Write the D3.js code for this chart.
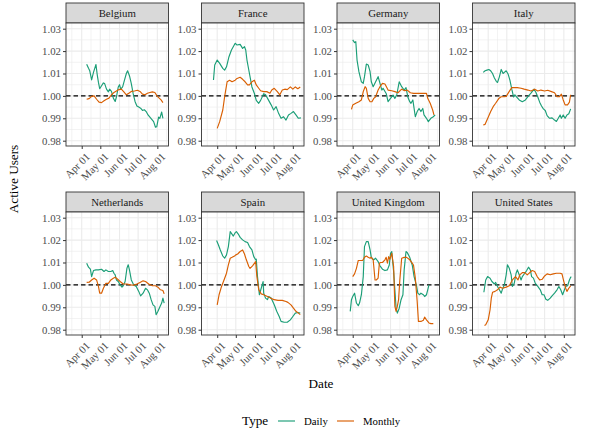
<!DOCTYPE html>
<html><head><meta charset="utf-8">
<script src="https://cdn.jsdelivr.net/npm/d3@7"></script>
<style>
html,body{margin:0;padding:0;background:#fff;}
svg{display:block;}
svg text{font-family:"Liberation Serif","Times New Roman",serif;}
</style></head>
<body><svg id="chart" width="600" height="430" font-family="Liberation Serif, serif"></svg>
<script>
const countries = ["Belgium","France","Germany","Italy","Netherlands","Spain","United Kingdom","United States"];
const seriesTypes = ["Daily","Monthly"];
const seriesColors = ["#1b9e77","#d95f02"];
const yTicks = [0.98,0.99,1.00,1.01,1.02,1.03];
const xTickDates = ["2020-04-01","2020-05-01","2020-06-01","2020-07-01","2020-08-01"];

const dailyBelgium = [["04-09",1.0141],["04-12",1.0123],["04-14",1.0112],["04-17",1.0071],["04-20",1.0105],["04-24",1.0140],["04-26",1.0095],["04-28",1.0060],["04-30",1.0032],["05-03",1.0045],["05-06",1.0058],["05-08",1.0055],["05-11",1.0030],["05-14",1.0018],["05-16",1.0030],["05-19",1.0020],["05-22",0.9990],["05-25",0.9975],["05-27",0.9995],["05-30",1.0040],["06-01",1.0050],["06-03",1.0030],["06-06",1.0040],["06-09",1.0070],["06-12",1.0100],["06-14",1.0112],["06-17",1.0090],["06-20",1.0055],["06-23",1.0010],["06-26",0.9975],["06-29",0.9955],["07-02",0.9950],["07-05",0.9945],["07-08",0.9935],["07-11",0.9938],["07-14",0.9930],["07-17",0.9915],["07-20",0.9905],["07-23",0.9895],["07-26",0.9885],["07-29",0.9860],["07-31",0.9862],["08-03",0.9905],["08-05",0.9900],["08-08",0.9928],["08-10",0.9900]];
const monthlyBelgium = [["04-09",0.9985],["04-13",0.9988],["04-17",0.9998],["04-21",1.0000],["04-25",0.9985],["04-29",0.9972],["05-03",0.9970],["05-07",0.9978],["05-11",0.9985],["05-15",0.9990],["05-19",1.0005],["05-23",1.0015],["05-27",1.0022],["05-31",1.0028],["06-04",1.0030],["06-08",1.0018],["06-12",1.0005],["06-16",1.0012],["06-20",1.0020],["06-25",1.0022],["06-30",1.0025],["07-04",1.0020],["07-08",1.0008],["07-12",1.0005],["07-16",1.0012],["07-20",1.0015],["07-24",1.0018],["07-28",1.0015],["08-01",0.9998],["08-04",0.9990],["08-07",0.9982],["08-10",0.9970]];

const dailyFrance = [["03-26",1.0071],["03-28",1.0138],["04-01",1.0160],["04-05",1.0145],["04-10",1.0123],["04-13",1.0115],["04-16",1.0130],["04-20",1.0175],["04-24",1.0205],["04-30",1.0235],["05-03",1.0227],["05-08",1.0230],["05-12",1.0212],["05-15",1.0220],["05-17",1.0205],["05-19",1.0160],["05-23",1.0100],["05-27",1.0040],["05-31",1.0011],["06-03",0.9980],["06-07",0.9967],["06-10",0.9980],["06-15",1.0010],["06-18",1.0005],["06-23",0.9980],["06-27",0.9960],["07-01",0.9937],["07-05",0.9952],["07-09",0.9922],["07-13",0.9900],["07-17",0.9907],["07-21",0.9892],["07-25",0.9915],["07-29",0.9922],["08-02",0.9930],["08-06",0.9915],["08-10",0.9900],["08-14",0.9902]];
const monthlyFrance = [["04-01",0.9855],["04-05",0.9885],["04-10",0.9937],["04-13",0.9997],["04-17",1.0063],["04-21",1.0070],["04-25",1.0063],["04-30",1.0070],["05-03",1.0078],["05-08",1.0083],["05-12",1.0074],["05-16",1.0063],["05-20",1.0049],["05-23",1.0049],["05-27",1.0063],["05-31",1.0070],["06-03",1.0049],["06-07",1.0034],["06-10",1.0023],["06-15",1.0019],["06-20",1.0019],["06-25",1.0012],["06-28",1.0026],["07-02",1.0034],["07-07",1.0019],["07-11",1.0005],["07-15",1.0026],["07-19",1.0030],["07-23",1.0028],["07-28",1.0040],["08-01",1.0030],["08-05",1.0040],["08-09",1.0032],["08-13",1.0040]];

const dailyGermany = [["04-01",1.0250],["04-04",1.0238],["04-06",1.0242],["04-08",1.0160],["04-11",1.0108],["04-15",1.0063],["04-18",1.0056],["04-20",1.0086],["04-23",1.0142],["04-26",1.0138],["04-29",1.0108],["05-01",1.0063],["05-04",1.0041],["05-08",1.0063],["05-12",1.0086],["05-15",1.0056],["05-18",1.0026],["05-20",1.0034],["05-25",1.0011],["05-28",0.9974],["06-01",0.9989],["06-05",1.0004],["06-08",0.9989],["06-11",1.0004],["06-15",1.0063],["06-19",1.0041],["06-23",1.0026],["06-26",1.0037],["06-29",0.9994],["07-02",0.9974],["07-04",0.9967],["07-07",0.9982],["07-11",0.9907],["07-14",0.9930],["07-17",0.9944],["07-20",0.9930],["07-23",0.9944],["07-25",0.9915],["07-29",0.9900],["08-01",0.9885],["08-05",0.9900],["08-09",0.9907],["08-12",0.9915]];
const monthlyGermany = [["03-30",0.9940],["04-01",0.9959],["04-06",0.9967],["04-11",0.9974],["04-15",0.9982],["04-18",1.0019],["04-21",1.0041],["04-23",1.0034],["04-26",0.9989],["04-29",0.9974],["05-02",0.9974],["05-05",0.9989],["05-08",0.9996],["05-12",1.0026],["05-15",1.0041],["05-19",1.0056],["05-23",1.0053],["05-26",1.0037],["05-28",1.0026],["06-03",1.0023],["06-08",1.0019],["06-13",1.0014],["06-19",1.0030],["06-24",1.0023],["06-28",1.0026],["07-03",1.0014],["07-08",1.0011],["07-25",1.0011],["07-29",1.0011],["07-31",0.9989],["08-04",0.9967],["08-08",0.9937],["08-10",0.9915]];

const dailyItaly = [["03-24",1.0105],["03-27",1.0112],["03-30",1.0115],["04-02",1.0118],["04-05",1.0112],["04-08",1.0100],["04-11",1.0080],["04-14",1.0065],["04-16",1.0060],["04-19",1.0085],["04-22",1.0118],["04-25",1.0100],["04-27",1.0105],["04-30",1.0112],["05-03",1.0098],["05-06",1.0070],["05-09",1.0030],["05-12",0.9995],["05-14",1.0005],["05-17",0.9995],["05-21",0.9982],["05-26",0.9974],["05-31",0.9982],["06-05",1.0000],["06-09",1.0012],["06-14",1.0030],["06-17",1.0015],["06-20",0.9995],["06-23",0.9972],["06-26",0.9955],["06-29",0.9942],["07-02",0.9935],["07-05",0.9912],["07-09",0.9900],["07-13",0.9902],["07-17",0.9892],["07-20",0.9886],["07-23",0.9900],["07-26",0.9915],["07-28",0.9900],["07-31",0.9915],["08-03",0.9900],["08-06",0.9915],["08-09",0.9920],["08-12",0.9942]];
const monthlyItaly = [["03-24",0.9870],["03-27",0.9873],["04-01",0.9905],["04-05",0.9930],["04-09",0.9952],["04-13",0.9967],["04-18",0.9988],["04-22",0.9996],["04-27",0.9996],["04-30",0.9998],["05-05",1.0020],["05-09",1.0037],["05-13",1.0037],["05-18",1.0037],["05-24",1.0034],["05-29",1.0030],["06-04",1.0026],["06-09",1.0022],["06-15",1.0030],["06-20",1.0022],["06-25",1.0026],["07-01",1.0022],["07-06",1.0025],["07-12",1.0019],["07-17",1.0014],["07-21",0.9997],["07-25",0.9996],["07-28",1.0008],["07-31",0.9982],["08-03",0.9960],["08-07",0.9960],["08-10",0.9972],["08-12",1.0005]];

const dailyNetherlands = [["04-09",1.0097],["04-12",1.0079],["04-15",1.0070],["04-17",1.0037],["04-20",1.0064],["04-24",1.0067],["04-28",1.0067],["05-03",1.0070],["05-07",1.0060],["05-10",1.0067],["05-14",1.0060],["05-18",1.0060],["05-21",1.0064],["05-23",1.0052],["05-25",1.0045],["05-27",1.0022],["05-30",1.0015],["06-02",1.0000],["06-05",0.9990],["06-07",0.9996],["06-10",1.0015],["06-13",1.0075],["06-15",1.0090],["06-17",1.0067],["06-20",1.0022],["06-24",1.0000],["06-28",0.9993],["07-02",0.9971],["07-05",0.9951],["07-09",0.9963],["07-13",0.9985],["07-16",0.9978],["07-19",0.9963],["07-22",0.9934],["07-25",0.9911],["07-28",0.9904],["07-30",0.9867],["08-02",0.9882],["08-05",0.9901],["08-08",0.9919],["08-10",0.9941],["08-12",0.9919]];
const monthlyNetherlands = [["04-09",1.0011],["04-13",1.0012],["04-17",1.0022],["04-21",1.0030],["04-25",1.0022],["04-28",0.9993],["04-30",0.9963],["05-03",0.9963],["05-06",0.9985],["05-10",1.0007],["05-14",1.0007],["05-18",1.0022],["05-22",1.0030],["05-25",1.0034],["05-29",1.0025],["06-02",1.0015],["06-07",1.0004],["06-13",1.0004],["06-18",1.0000],["06-24",0.9999],["06-29",1.0004],["07-04",1.0011],["07-09",1.0018],["07-13",1.0015],["07-18",1.0004],["07-24",0.9996],["07-29",0.9996],["08-02",0.9990],["08-06",0.9978],["08-10",0.9975],["08-12",0.9960]];

const dailySpain = [["03-31",1.0198],["04-03",1.0178],["04-06",1.0156],["04-10",1.0129],["04-13",1.0119],["04-16",1.0134],["04-19",1.0171],["04-22",1.0238],["04-24",1.0230],["04-27",1.0218],["04-30",1.0233],["05-02",1.0238],["05-05",1.0227],["05-08",1.0212],["05-12",1.0201],["05-16",1.0193],["05-20",1.0189],["05-23",1.0171],["05-27",1.0156],["05-30",1.0126],["06-02",1.0112],["06-03",1.0115],["06-05",1.0037],["06-08",0.9956],["06-11",0.9985],["06-14",1.0015],["06-15",0.9963],["06-18",0.9941],["06-21",0.9934],["06-23",0.9948],["06-27",0.9941],["07-02",0.9911],["07-06",0.9882],["07-10",0.9859],["07-13",0.9837],["07-18",0.9833],["07-23",0.9833],["07-28",0.9844],["08-01",0.9859],["08-05",0.9874],["08-09",0.9877],["08-13",0.9874]];
const monthlySpain = [["04-01",0.9911],["04-04",0.9956],["04-08",0.9993],["04-12",1.0022],["04-16",1.0052],["04-19",1.0089],["04-22",1.0119],["04-25",1.0123],["04-29",1.0129],["05-01",1.0134],["05-04",1.0138],["05-08",1.0149],["05-12",1.0156],["05-15",1.0138],["05-18",1.0112],["05-22",1.0082],["05-24",1.0074],["05-28",1.0085],["06-02",1.0104],["06-04",1.0037],["06-07",0.9978],["06-11",0.9960],["06-15",0.9956],["06-21",0.9948],["06-26",0.9941],["07-02",0.9934],["07-08",0.9931],["07-15",0.9931],["07-21",0.9926],["07-24",0.9922],["07-29",0.9911],["08-02",0.9896],["08-06",0.9882],["08-10",0.9874],["08-13",0.9867]];

const dailyUK = [["03-28",0.9882],["03-30",0.9934],["04-01",0.9948],["04-04",0.9963],["04-07",0.9919],["04-10",0.9907],["04-12",0.9919],["04-15",0.9956],["04-18",1.0037],["04-20",1.0171],["04-23",1.0193],["04-26",1.0193],["04-29",1.0156],["05-01",1.0123],["05-05",1.0112],["05-08",1.0119],["05-12",1.0104],["05-15",1.0085],["05-19",1.0070],["05-23",1.0064],["05-27",1.0067],["05-30",1.0089],["06-01",1.0141],["06-03",1.0149],["06-06",1.0060],["06-08",0.9978],["06-10",0.9896],["06-12",0.9874],["06-15",0.9896],["06-18",0.9934],["06-21",0.9956],["06-23",1.0067],["06-26",1.0149],["06-28",1.0144],["07-02",1.0123],["07-06",1.0089],["07-09",1.0037],["07-13",0.9996],["07-15",0.9963],["07-18",0.9956],["07-20",0.9963],["07-24",0.9956],["07-26",0.9948],["07-29",0.9956],["07-31",0.9978],["08-02",1.0000]];
const monthlyUK = [["04-01",1.0037],["04-04",1.0049],["04-07",1.0074],["04-10",1.0109],["04-12",1.0109],["04-17",1.0109],["04-20",1.0123],["04-23",1.0129],["04-26",1.0123],["04-29",1.0119],["05-01",1.0123],["05-04",1.0112],["05-07",1.0022],["05-09",1.0022],["05-12",1.0030],["05-14",1.0097],["05-16",1.0100],["05-19",1.0100],["05-23",1.0112],["05-25",1.0123],["05-27",1.0097],["05-29",1.0126],["05-31",1.0115],["06-03",1.0141],["06-06",1.0082],["06-08",0.9904],["06-10",0.9882],["06-12",0.9904],["06-14",0.9934],["06-16",1.0022],["06-19",1.0119],["06-23",1.0123],["06-27",1.0123],["07-02",1.0112],["07-06",1.0097],["07-08",1.0089],["07-11",1.0030],["07-14",0.9926],["07-16",0.9837],["07-20",0.9837],["07-24",0.9842],["07-26",0.9856],["07-29",0.9844],["08-02",0.9830],["08-05",0.9827],["08-09",0.9827]];

const dailyUS = [["03-25",0.9967],["03-28",1.0022],["03-31",1.0037],["04-04",1.0030],["04-07",1.0015],["04-11",1.0004],["04-13",1.0011],["04-16",0.9993],["04-19",0.9978],["04-22",0.9963],["04-24",0.9981],["04-27",1.0000],["04-30",1.0045],["05-02",1.0090],["05-05",1.0074],["05-08",1.0045],["05-10",0.9993],["05-13",1.0007],["05-16",1.0052],["05-18",1.0067],["05-21",1.0045],["05-24",1.0022],["05-26",1.0037],["05-30",1.0052],["06-02",1.0064],["06-05",1.0079],["06-08",1.0067],["06-10",1.0037],["06-13",1.0030],["06-16",1.0007],["06-20",0.9993],["06-24",0.9978],["06-27",0.9956],["06-30",0.9956],["07-03",0.9936],["07-06",0.9931],["07-10",0.9941],["07-13",0.9951],["07-17",0.9963],["07-21",0.9978],["07-24",0.9993],["07-27",0.9978],["07-30",0.9956],["08-02",0.9978],["08-04",0.9993],["08-07",0.9996],["08-10",1.0022],["08-12",1.0034],["08-13",1.0037]];
const monthlyUS = [["03-26",0.9819],["03-28",0.9822],["04-01",0.9844],["04-04",0.9889],["04-06",0.9941],["04-08",0.9967],["04-12",0.9971],["04-16",0.9978],["04-20",0.9990],["04-24",0.9985],["04-30",0.9990],["05-05",0.9996],["05-10",1.0022],["05-15",1.0037],["05-19",1.0022],["05-22",1.0045],["05-26",1.0055],["05-30",1.0055],["06-03",1.0045],["06-07",1.0055],["06-11",1.0064],["06-15",1.0060],["06-19",1.0037],["06-23",1.0022],["06-27",1.0025],["07-01",1.0040],["07-05",1.0049],["07-10",1.0045],["07-15",1.0049],["07-20",1.0052],["07-26",1.0052],["07-29",1.0049],["08-01",1.0015],["08-04",0.9985],["08-06",0.9971],["08-09",0.9985],["08-12",0.9996]];

const dailySeries = [dailyBelgium,dailyFrance,dailyGermany,dailyItaly,dailyNetherlands,dailySpain,dailyUK,dailyUS];
const monthlySeries = [monthlyBelgium,monthlyFrance,monthlyGermany,monthlyItaly,monthlyNetherlands,monthlySpain,monthlyUK,monthlyUS];

// ---------- drawing ----------
const FONT = "Liberation Serif, Times New Roman, serif";
const parse = d3.timeParse("%Y-%m-%d");
const pd = md => parse("2020-" + md);
const svg = d3.select("#chart");

const colLefts = [66, 201.5, 337, 472.5];
const rowTops = [3, 192];
const panelW = 102.5, stripH = 20, plotH = 123;

const x = d3.scaleTime()
  .domain([new Date(2020,2,6,16), new Date(2020,7,19,0)])
  .range([0, panelW]);
const y = d3.scaleLinear().domain([0.97763, 1.03254]).range([plotH, 0]);

const xMinor = ["2020-03-16","2020-04-16","2020-05-16","2020-06-16","2020-07-16","2020-08-16"].map(parse);
const yMinor = [0.985,0.995,1.005,1.015,1.025];

const line = d3.line().x(d => x(d[0])).y(d => y(d[1]));

countries.forEach((name, i) => {
  const col = i % 4, row = Math.floor(i / 4);
  const g = svg.append("g").attr("transform", `translate(${colLefts[col]},${rowTops[row]})`);
  g.append("rect").attr("x",0).attr("y",0).attr("width",panelW).attr("height",stripH)
    .attr("fill","#d9d9d9").attr("stroke","#333333").attr("stroke-width",0.9);
  g.append("text").attr("x",panelW/2).attr("y",stripH/2).attr("dy","0.35em")
    .attr("text-anchor","middle").attr("font-family",FONT).attr("font-size","10.8px").attr("fill","#1a1a1a").text(name);
  const p = g.append("g").attr("transform",`translate(0,${stripH})`);
  p.append("rect").attr("width",panelW).attr("height",plotH).attr("fill","#fff");
  p.selectAll(".gxm").data(xMinor.filter(d => x(d) > 0 && x(d) < panelW)).enter().append("line")
    .attr("x1",d=>x(d)).attr("x2",d=>x(d)).attr("y1",0).attr("y2",plotH)
    .attr("stroke","#ebebeb").attr("stroke-width",0.6);
  p.selectAll(".gym").data(yMinor).enter().append("line")
    .attr("y1",d=>y(d)).attr("y2",d=>y(d)).attr("x1",0).attr("x2",panelW)
    .attr("stroke","#ebebeb").attr("stroke-width",0.6);
  p.selectAll(".gx").data(xTickDates.map(parse)).enter().append("line")
    .attr("x1",d=>x(d)).attr("x2",d=>x(d)).attr("y1",0).attr("y2",plotH)
    .attr("stroke","#ebebeb").attr("stroke-width",1.1);
  p.selectAll(".gy").data(yTicks).enter().append("line")
    .attr("y1",d=>y(d)).attr("y2",d=>y(d)).attr("x1",0).attr("x2",panelW)
    .attr("stroke","#ebebeb").attr("stroke-width",1.1);
  p.append("line").attr("x1",0).attr("x2",panelW).attr("y1",y(1)).attr("y2",y(1))
    .attr("stroke","#000").attr("stroke-width",1.1).attr("stroke-dasharray","4.5,3");
  [dailySeries[i], monthlySeries[i]].forEach((s, k) => {
    const data = s.map(d => [pd(d[0]), d[1]]);
    p.append("path").datum(data).attr("d", line).attr("fill","none")
      .attr("stroke", seriesColors[k]).attr("stroke-width",1.15).attr("stroke-linejoin","round");
  });
  p.append("rect").attr("width",panelW).attr("height",plotH).attr("fill","none")
    .attr("stroke","#333333").attr("stroke-width",0.9);
  const ya = p.append("g").call(d3.axisLeft(y).tickValues(yTicks).tickFormat(d3.format(".2f")).tickSize(3).tickPadding(2));
  ya.attr("font-family",FONT);
  ya.select(".domain").remove();
  ya.selectAll("line").attr("stroke","#333333");
  ya.selectAll("text").attr("font-size","10.8px").attr("fill","#4d4d4d").attr("font-family",FONT);
  const xa = p.append("g").attr("transform",`translate(0,${plotH})`)
    .call(d3.axisBottom(x).tickValues(xTickDates.map(parse)).tickFormat(d3.timeFormat("%b %d")).tickSize(3));
  xa.attr("font-family",FONT);
  xa.select(".domain").remove();
  xa.selectAll("line").attr("stroke","#333333");
  xa.selectAll("text").attr("font-size","10.8px").attr("fill","#4d4d4d").attr("font-family",FONT)
    .attr("text-anchor","end").attr("y",0).attr("dy","0.7em")
    .attr("transform","translate(3,6) rotate(-45)");
});

svg.append("text").attr("transform","translate(18,179) rotate(-90)").attr("text-anchor","middle")
  .attr("font-family",FONT).attr("font-size","13.2px").attr("fill","#000").text("Active Users");
svg.append("text").attr("x",321).attr("y",388).attr("text-anchor","middle")
  .attr("font-family",FONT).attr("font-size","13.2px").attr("fill","#000").text("Date");

const lg = svg.append("g");
lg.append("text").attr("x",242).attr("y",425).attr("font-family",FONT).attr("font-size","13.2px").attr("fill","#000").text("Type");
const legX = [278, 337];
seriesTypes.forEach((t, k) => {
  lg.append("line").attr("x1",legX[k]).attr("x2",legX[k]+17).attr("y1",421).attr("y2",421)
    .attr("stroke",seriesColors[k]).attr("stroke-width",1.15);
  lg.append("text").attr("x",legX[k]+26).attr("y",424.5).attr("font-family",FONT).attr("font-size","10.8px").attr("fill","#000").text(t);
});
</script>
</body></html>
